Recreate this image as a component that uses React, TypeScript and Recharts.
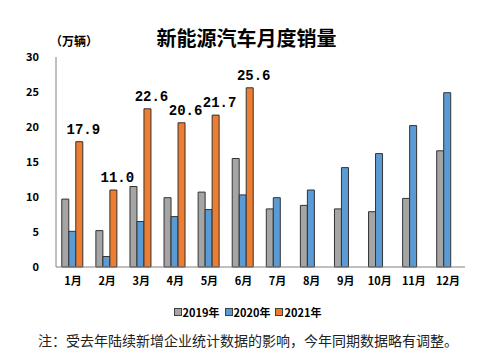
import React from "react";
import { BarChart, Bar, XAxis, YAxis, LabelList } from "recharts";

const months = ["1月", "2月", "3月", "4月", "5月", "6月", "7月", "8月", "9月", "10月", "11月", "12月"];
const s2019 = [9.7, 5.2, 11.5, 9.9, 10.7, 15.5, 8.3, 8.8, 8.3, 7.9, 9.8, 16.6];
const s2020 = [5.1, 1.5, 6.5, 7.2, 8.2, 10.3, 9.9, 11.0, 14.2, 16.2, 20.2, 24.9];
const s2021: (number | null)[] = [17.9, 11.0, 22.6, 20.6, 21.7, 25.6, null, null, null, null, null, null];
const yTicks = [0, 5, 10, 15, 20, 25, 30];

const seriesNames = ["2019年", "2020年", "2021年"];
const colors = ["#A5A5A5", "#5B9BD5", "#ED7D31"];

const data = months.map((m, i) => ({
  month: m,
  y2019: s2019[i],
  y2020: s2020[i],
  y2021: s2021[i],
}));

const FONT = "'Noto Sans CJK SC', 'Noto Sans', sans-serif";

const OrangeLabel = (props: any) => {
  const { x, y, width, value } = props;
  if (value == null) return null;
  return (
    <text
      x={x + width / 2 + 4}
      y={y - 8}
      textAnchor="middle"
      fontFamily="'Liberation Mono', 'DejaVu Sans Mono', monospace"
      fontWeight="bold"
      fontSize={14}
      fill="#000"
    >
      {Number(value).toFixed(1)}
    </text>
  );
};

const LegendBox = () => (
  <div
    style={{
      position: "absolute",
      left: 0,
      top: 304,
      width: 483,
      display: "flex",
      justifyContent: "center",
      gap: 5,
      fontFamily: FONT,
      fontWeight: "bold",
      fontSize: 11,
      lineHeight: "16px",
      color: "#000",
      paddingLeft: 12,
      boxSizing: "border-box",
    }}
  >
    {seriesNames.map((n, i) => (
      <span key={n} style={{ display: "flex", alignItems: "center" }}>
        <span
          style={{
            width: 6,
            height: 6,
            background: colors[i],
            border: "1px solid #404040",
            marginRight: 1,
            display: "inline-block",
          }}
        />
        {n}
      </span>
    ))}
  </div>
);

export default function App() {
  return (
    <div style={{ position: "fixed", left: 0, top: 0, width: 483, height: 355, background: "#fff" }}>
      <div
        style={{
          position: "absolute",
          left: 0,
          width: 483,
          top: 24,
          textAlign: "center",
          fontFamily: FONT,
          fontWeight: "bold",
          fontSize: 20,
          lineHeight: "28px",
          color: "#000",
          paddingLeft: 10,
          boxSizing: "border-box",
        }}
      >
        新能源汽车月度销量
      </div>
      <div
        style={{
          position: "absolute",
          left: 50,
          top: 33,
          fontFamily: FONT,
          fontWeight: "bold",
          fontSize: 12,
          lineHeight: "16px",
          color: "#000",
        }}
      >
        （万辆）
      </div>
      <BarChart
        width={483}
        height={355}
        data={data}
        margin={{ top: 57, right: 18, left: 0, bottom: 58 }}
        barCategoryGap="17%"
        barGap={0}
      >
        <XAxis
          dataKey="month"
          stroke="#808080"
          tickLine={false}
          tickSize={0}
          tickMargin={10}
          height={30}
          interval={0}
          tick={{ fontFamily: FONT, fontWeight: "bold", fontSize: 11, fill: "#000" }}
        />
        <YAxis
          domain={[0, 30]}
          ticks={yTicks}
          width={56}
          stroke="#808080"
          tickLine={false}
          tickSize={0}
          tickMargin={17}
          tick={{ fontFamily: FONT, fontWeight: "bold", fontSize: 11, fill: "#000" }}
        />
        <Bar dataKey="y2019" name={seriesNames[0]} fill={colors[0]} stroke="#333" strokeWidth={1} isAnimationActive={false} />
        <Bar dataKey="y2020" name={seriesNames[1]} fill={colors[1]} stroke="#333" strokeWidth={1} isAnimationActive={false} />
        <Bar dataKey="y2021" name={seriesNames[2]} fill={colors[2]} stroke="#333" strokeWidth={1} isAnimationActive={false}>
          <LabelList dataKey="y2021" content={<OrangeLabel />} />
        </Bar>
      </BarChart>
      <LegendBox />
      <div
        style={{
          position: "absolute",
          left: 38,
          top: 330,
          fontFamily: FONT,
          fontSize: 14,
          lineHeight: "20px",
          color: "#222",
          whiteSpace: "nowrap",
        }}
      >
        注：受去年陆续新增企业统计数据的影响，今年同期数据略有调整。
      </div>
    </div>
  );
}
